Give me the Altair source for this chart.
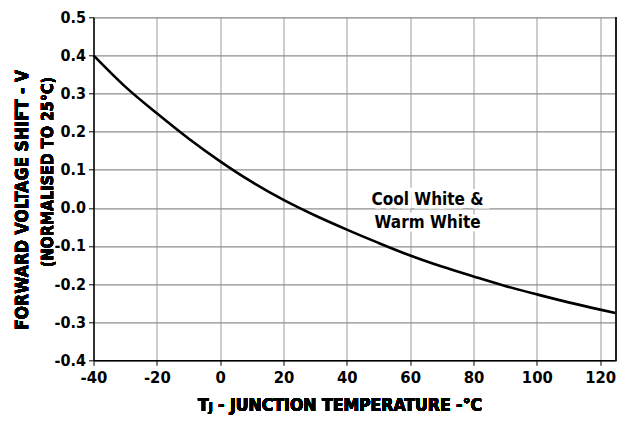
import altair as alt
import pandas as pd

temps = [-40, -30, -20, -10, 0, 10, 20, 30, 40, 50, 60, 70, 80, 90, 100, 110, 120, 125]
shift = [0.400, 0.318, 0.248, 0.182, 0.122, 0.068, 0.021, -0.020, -0.057, -0.092,
         -0.125, -0.154, -0.180, -0.205, -0.227, -0.248, -0.267, -0.276]

label_lines = ["Cool White &", "Warm White"]
label_x = [65.5, 65.5]
label_y = [0.020, -0.041]

x_ticks = [-40, -20, 0, 20, 40, 60, 80, 100, 120]
y_ticks = [-0.4, -0.3, -0.2, -0.1, 0.0, 0.1, 0.2, 0.3, 0.4, 0.5]

y_title_1 = "FORWARD VOLTAGE SHIFT - V"
y_title_2 = "(NORMALISED TO 25°C)"
x_title_t = "T"
x_title_j = "J"
x_title_rest = "- JUNCTION TEMPERATURE -°C"

FONT = "DejaVu Sans Condensed"
W, H = 522.5, 343

df = pd.DataFrame({"t": temps, "v": shift})
lab = pd.DataFrame({"t": label_x, "v": label_y, "txt": label_lines})

xs = alt.Scale(domain=[-40, 125], nice=False, zero=False)
ys = alt.Scale(domain=[-0.4, 0.5], nice=False, zero=False)

common = dict(grid=True, gridWidth=1.2, gridOpacity=1, tickCount=30,
              domainColor="black", domainWidth=1.5, tickColor="black",
              tickSize=5, labelFont=FONT, labelFontWeight="bold",
              labelColor="black", labelFlush=False, labelOverlap=False, title=None)

line = alt.Chart(df).mark_line(color="black", strokeWidth=2.6, interpolate="monotone").encode(
    x=alt.X("t:Q", scale=xs,
            axis=alt.Axis(values=x_ticks, gridColor="#ababab", labelFontSize=16.5, labelPadding=4,
                          labelExpr="replace(format(datum.value, 'd'), '−', '-')", **common)),
    y=alt.Y("v:Q", scale=ys,
            axis=alt.Axis(values=y_ticks, gridColor="#8e8e8e", labelFontSize=16, labelPadding=3,
                          labelExpr="replace(format(datum.value, '.1f'), '−', '-')", **common)),
)

right_border = alt.Chart(df).mark_rule(color="#222", strokeWidth=1.5).encode(
    x=alt.datum(125), y=alt.value(0), y2=alt.value(H))

bg = alt.Chart(lab).mark_text(font=FONT, fontSize=17, fontWeight="bold", color="white",
                              stroke="white", strokeWidth=7).encode(
    x=alt.X("t:Q", scale=xs), y=alt.Y("v:Q", scale=ys), text="txt:N")

txt = alt.Chart(lab).mark_text(font=FONT, fontSize=17, fontWeight="bold", color="black").encode(
    x=alt.X("t:Q", scale=xs), y=alt.Y("v:Q", scale=ys), text="txt:N")

tstyle = dict(font=FONT, fontWeight="bold", color="black")
yt1 = alt.Chart(df).mark_text(angle=270, align="center", baseline="middle", fontSize=17.5,
                              text=y_title_1, **tstyle).encode(x=alt.value(-71), y=alt.value(182.7))
yt2 = alt.Chart(df).mark_text(angle=270, align="center", baseline="middle", fontSize=16,
                              text=y_title_2, **tstyle).encode(x=alt.value(-45.5), y=alt.value(154.7))
xt1 = alt.Chart(df).mark_text(align="left", baseline="alphabetic", fontSize=17.5,
                              text=x_title_t, **tstyle).encode(x=alt.value(104.5), y=alt.value(393.5))
xt2 = alt.Chart(df).mark_text(align="left", baseline="alphabetic", fontSize=12,
                              text=x_title_j, **tstyle).encode(x=alt.value(115.2), y=alt.value(394))
xt3 = alt.Chart(df).mark_text(align="left", baseline="alphabetic", fontSize=17.5,
                              text=x_title_rest, **tstyle).encode(x=alt.value(124.5), y=alt.value(393.5))

chart = (line + right_border + bg + txt + yt1 + yt2 + xt1 + xt2 + xt3).properties(
    width=W, height=H,
    autosize=alt.AutoSizeParams(type="none"),
    padding={"left": 85.5, "top": 9.3, "right": 1, "bottom": 55.5},
).configure_view(stroke=None).configure(background="white")

chart.save("out.html", embed_options={"renderer": "svg", "actions": False})
